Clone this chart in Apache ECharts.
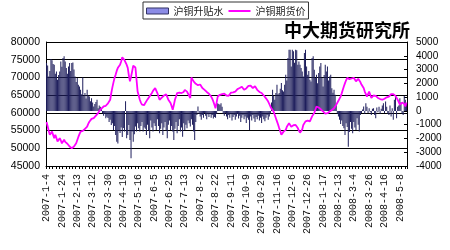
<!DOCTYPE html>
<html><head><meta charset="utf-8">
<script src="https://cdn.jsdelivr.net/npm/echarts@6/dist/echarts.min.js"></script>
<style>html,body{margin:0;padding:0;background:#fff}#c{width:450px;height:250px}</style>
</head><body><div id="c"></div>
<script>
// ---- data ----
const seriesNames = ['沪铜升贴水', '沪铜期货价'];
const titleText = '中大期货研究所';
const firstDay = [2007, 1, 4];
// exchange closed / missing days (weekdays)
const closedDays = ['2007-2-19','2007-2-20','2007-2-21','2007-2-22','2007-2-23',
  '2007-5-1','2007-5-2','2007-5-3','2007-5-4','2007-5-7',
  '2007-10-1','2007-10-2','2007-10-3','2007-10-4','2007-10-5','2007-10-8',
  '2007-12-31','2008-1-1','2008-2-6','2008-2-7','2008-2-8','2008-2-11','2008-2-12',
  '2008-3-24','2008-3-25','2008-4-4','2008-5-1','2008-5-2'];
const leftAxisTicks = [45000, 50000, 55000, 60000, 65000, 70000, 75000, 80000];
const rightAxisTicks = [-4000, -3000, -2000, -1000, 0, 1000, 2000, 3000, 4000, 5000];

// 沪铜期货价 (left axis)
const priceValues = [
57400,56200,54900,53800,54300,54700,54200,52850,53800,52900,
51900,52400,52850,52200,51400,51900,52400,51800,51900,51300,
50900,50500,50300,50000,50200,50500,51000,51400,51900,53200,
54000,54700,54500,54900,55200,55500,55800,56100,56900,57500,
58000,58300,58100,58500,58900,59200,59500,59900,60500,60900,
61200,61500,61800,61700,62000,62300,62700,63200,63700,65600,
67200,68600,69900,70800,71900,72700,73100,73600,74500,75700,
75200,74900,74600,73600,72700,70600,68900,70200,71700,73300,
73100,72800,69400,66000,64900,63700,62900,62300,61800,62200,
62800,63300,63800,64200,64700,65100,65600,66200,66700,67000,
66300,65600,64600,63700,63900,64300,64600,64900,65300,65200,
64500,63700,63300,62800,61900,60900,62200,63700,64600,65600,
65800,65700,66000,65600,65100,65900,66500,66200,66000,65400,
64800,64200,70000,69500,68900,68600,68200,68000,67800,68100,
68000,67500,67000,66800,66500,66200,65900,65600,65400,65100,
64600,64000,63200,62300,61300,62900,64600,64900,65100,65400,
65300,65600,65400,65100,64900,64700,64800,65200,65700,66000,
65800,66100,66000,66400,66700,66900,67000,67400,67400,66900,
66500,66700,66900,67100,67600,68000,67700,67300,67000,67200,
67500,67000,66500,66000,65900,65700,65600,65300,64900,64600,
64100,63700,63200,62500,61800,61200,60700,60300,59400,58500,
57600,56700,55700,54800,53800,54200,54700,55000,55200,56100,
56600,57100,56800,56100,56300,56500,56700,56600,56200,55700,
55000,54400,53900,55300,56600,57100,57600,58000,57800,57700,
57600,58300,59000,59500,60000,60400,61800,61600,61500,61400,
61000,60700,60400,60000,59800,59500,59900,60200,60400,60600,
60800,60900,61300,61800,62300,62800,63400,64000,64600,65500,
66500,67500,68400,69200,69900,69700,69500,69400,69700,70000,
69900,69400,68900,69200,69600,69400,68700,68000,67500,67000,
66000,65300,64600,65300,66000,65100,64200,64500,64900,65100,
64800,64500,64200,64000,63900,63800,63700,63900,64000,64200,
64400,64500,64600,65000,65300,65600,65300,65100,64800,64300,
63700,63000,62300,62600,62900,63200,62500,61800,62900];

// 沪铜升贴水 (right axis)
const basisValues = [
3480,3300,2500,2900,3770,3670,3400,3350,2700,2860,
2260,2600,2860,3590,3200,3840,3960,3590,3110,2700,
3230,3480,2900,3480,3520,3000,2500,2100,2380,1900,
1770,1530,1200,2430,1100,1290,900,1530,1100,1040,
700,925,600,310,500,650,800,200,400,300,
150,-170,-350,-200,-530,-420,-525,-800,-650,-1020,
-900,-1380,-1100,-1750,-2240,-2360,-1400,-1600,-1200,-1900,
-1240,-1500,700,-1990,-1750,-1020,-2110,-3440,-1500,-2240,
-1700,-1140,-1500,-900,-1260,-1500,-1100,-800,-1500,-1200,
-1300,-1750,-1000,-1400,-1990,-700,-1200,-1500,-900,-1100,
-1380,-600,-1100,-1620,-1300,-900,-1750,-1200,-800,-1400,
-1990,-1000,-700,-1380,-1100,-1500,-2110,-1300,-800,-1620,
-1100,-600,-1500,-1200,-1870,-900,-1380,-1000,-1260,-700,
-900,-1140,-600,-1000,-1500,-2110,-800,-300,310,-200,
-400,-650,-300,-500,-150,-350,-600,-250,-450,-200,
-500,-300,-550,-450,-500,-200,560,500,440,560,
300,-200,-350,-150,-400,-600,-300,-500,-250,-700,
-450,-300,-650,-400,-200,-550,-350,-800,-500,-300,
-600,-400,-870,-500,-650,-1380,-400,-700,-300,-550,
-800,-450,-600,-350,-700,-500,-870,-400,-600,-750,
-500,-300,-650,-400,-200,600,1530,1100,800,1300,
1890,1200,1290,1600,2020,1500,1410,1900,2620,2200,
3840,4445,4445,3230,4445,4320,3500,4445,4400,3350,
3590,3350,3110,2860,2500,4200,4445,3230,2620,2900,
2260,2130,3840,3960,2990,2380,2620,2000,2750,3230,
3480,2400,1770,2600,3350,2860,3230,2200,2500,2620,
1650,1310,1530,1170,440,-200,-400,-650,-950,-700,
-1100,-1260,-1750,-900,-1170,-2600,-1530,-800,-1300,-1620,
-800,-1200,-1380,-530,-1000,-1500,-290,-150,100,320,
-200,560,300,-150,200,-100,-290,150,200,-300,
-530,250,-100,300,-200,150,400,560,-150,680,
300,-200,-300,400,-410,200,-650,800,1000,-530,
300,400,925,600,-200,-300,1100,800,500];

// trading-day categories
function tradingDays(n) {
  const d = new Date(firstDay[0], firstDay[1] - 1, firstDay[2]);
  const out = [];
  while (out.length < n) {
    const dow = d.getDay();
    const s = d.getFullYear() + '-' + (d.getMonth() + 1) + '-' + d.getDate();
    if (dow !== 0 && dow !== 6 && closedDays.indexOf(s) < 0) out.push(s);
    d.setDate(d.getDate() + 1);
  }
  return out;
}
const categories = tradingDays(priceValues.length);
const plainNumber = v => String(v);

const chart = echarts.init(document.getElementById('c'), null, {renderer: 'canvas'});
chart.setOption({
  animation: false,
  backgroundColor: '#fff',
  title: {
    text: titleText, right: 40, top: 21, padding: 0,
    textStyle: {fontFamily: 'Noto Sans CJK SC', fontSize: 18, fontWeight: 'bold', color: '#000'}
  },
  legend: {
    left: 143, top: 2, padding: [4, 3, 3, 3],
    borderColor: '#333', borderWidth: 1,
    itemWidth: 22, itemHeight: 6, itemGap: 4,
    textStyle: {fontFamily: 'Noto Sans CJK SC', fontSize: 10, color: '#222'},
    data: [
      {name: seriesNames[0], icon: 'rect', itemStyle: {color: '#8c8ce6', borderColor: '#333366', borderWidth: 1}},
      {name: seriesNames[1], itemStyle: {color: 'rgba(0,0,0,0)', borderWidth: 0}, lineStyle: {color: '#ff00ff', width: 2}}
    ]
  },
  grid: {left: 46, right: 43, top: 42, bottom: 84},
  xAxis: {
    type: 'category', data: categories, boundaryGap: true,
    axisLine: {onZero: false, lineStyle: {color: '#000', width: 1}},
    axisTick: {show: true, interval: 2, length: 3, lineStyle: {color: '#000'}},
    axisLabel: {interval: 13, rotate: 90, margin: 8, fontFamily: 'Liberation Mono', fontSize: 10, color: '#111'},
    splitLine: {show: false}
  },
  yAxis: [
    {
      type: 'value', position: 'left',
      min: leftAxisTicks[0], max: leftAxisTicks[leftAxisTicks.length - 1], interval: leftAxisTicks[1] - leftAxisTicks[0],
      axisLine: {show: true, lineStyle: {color: '#000'}},
      axisTick: {show: false},
      axisLabel: {margin: 6, fontFamily: 'Liberation Sans', fontSize: 10.5, color: '#000', formatter: plainNumber},
      splitLine: {show: true, lineStyle: {color: '#000', width: 1}}
    },
    {
      type: 'value', position: 'right',
      min: rightAxisTicks[0], max: rightAxisTicks[rightAxisTicks.length - 1], interval: rightAxisTicks[1] - rightAxisTicks[0],
      axisLine: {show: true, lineStyle: {color: '#000'}},
      axisTick: {show: true, inside: true, length: 3, lineStyle: {color: '#000'}},
      axisLabel: {margin: 9, fontFamily: 'Liberation Sans', fontSize: 10, color: '#000', formatter: plainNumber},
      splitLine: {show: false}
    }
  ],
  series: [
    {
      name: seriesNames[0], type: 'bar', yAxisIndex: 1, data: basisValues,
      barCategoryGap: '15%',
      itemStyle: {color: '#1e1e5c'}
    },
    {
      name: seriesNames[1], type: 'line', yAxisIndex: 0, data: priceValues,
      symbol: 'none', smooth: false,
      lineStyle: {color: '#ff00ff', width: 1.8},
      itemStyle: {color: '#ff00ff'}
    }
  ]
});
</script>
</body></html>
